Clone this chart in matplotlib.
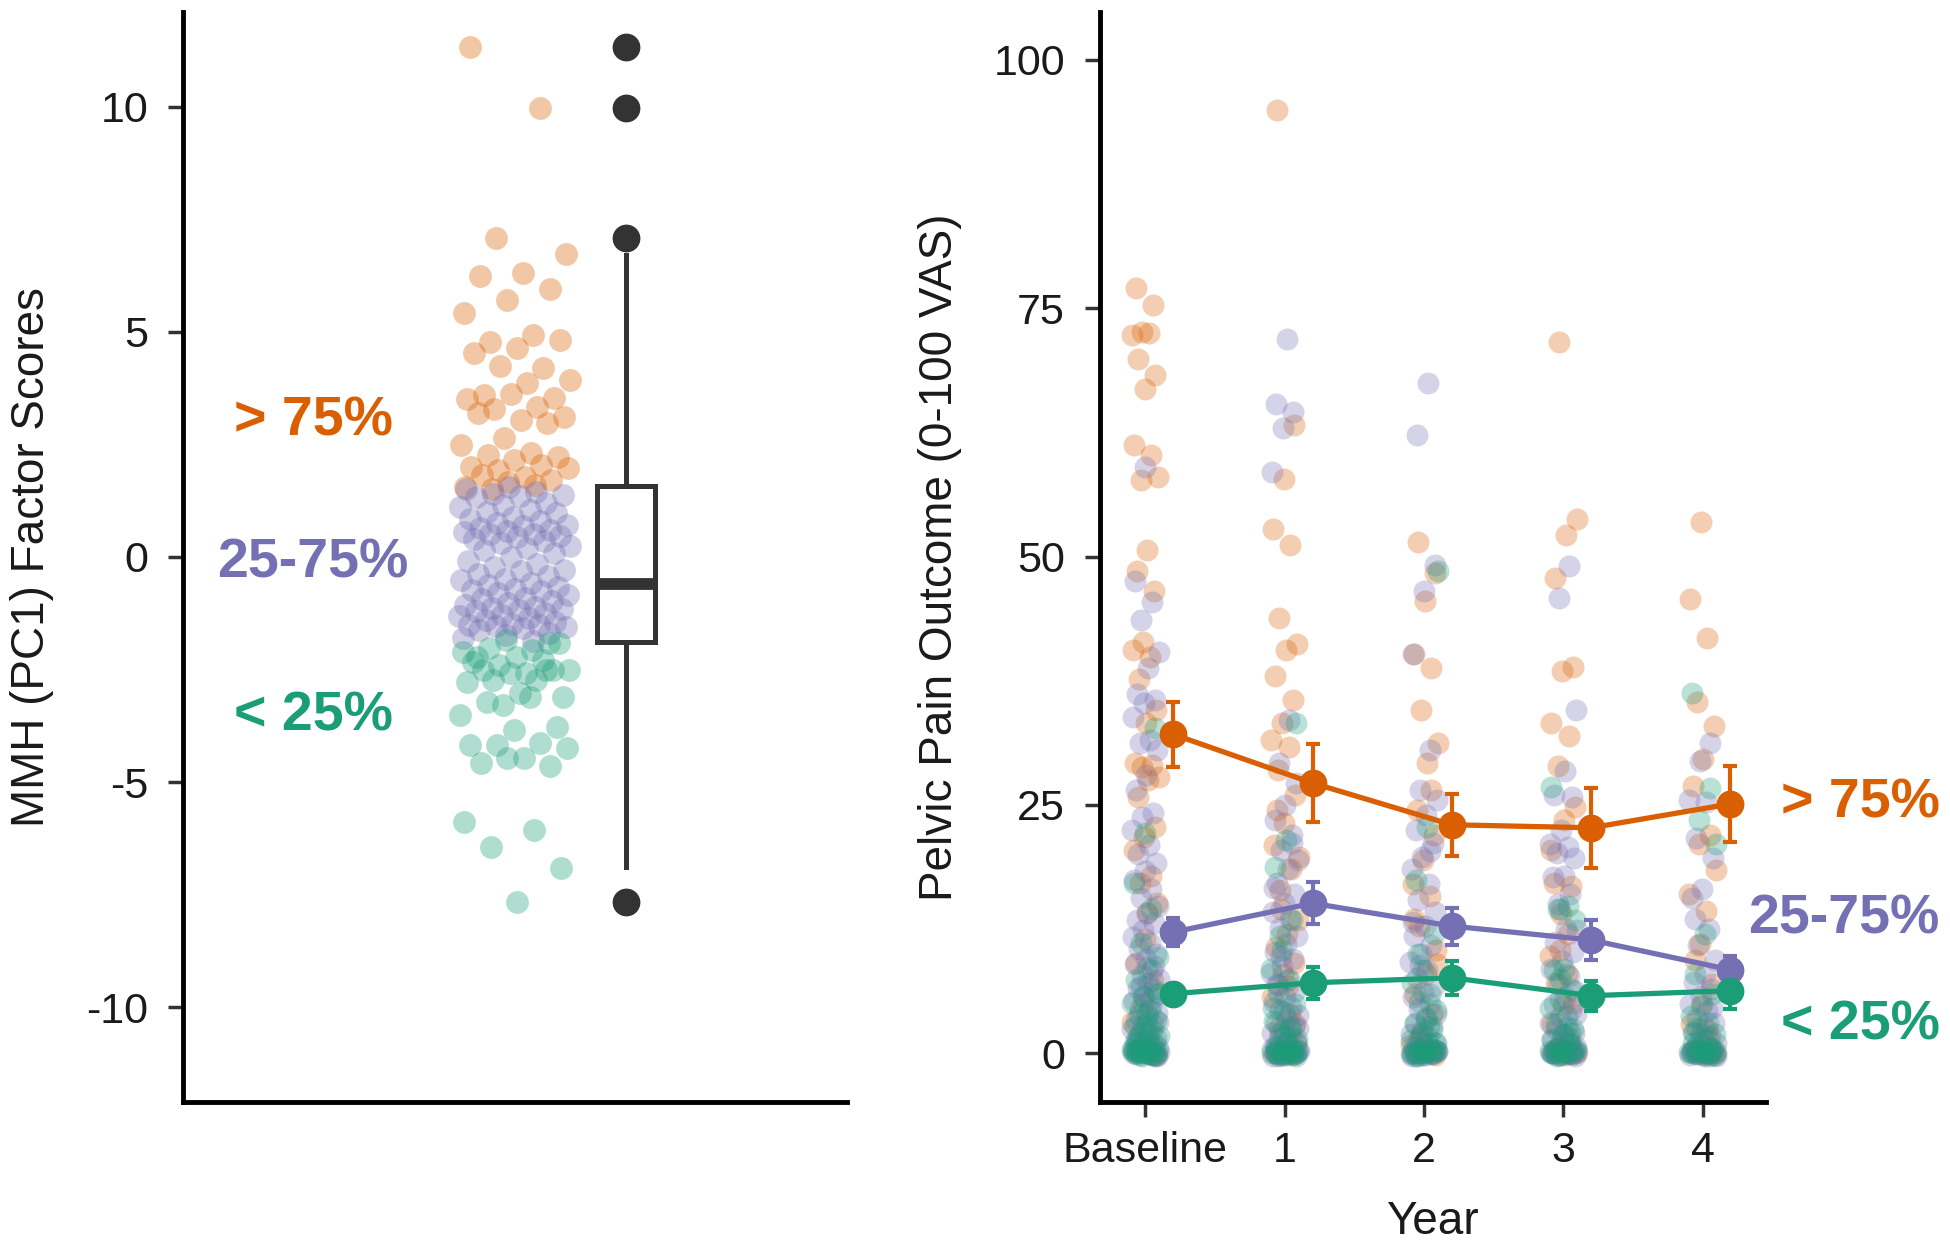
import numpy as np
import matplotlib.pyplot as plt

plt.rcParams['font.family'] = ['Liberation Sans', 'DejaVu Sans']
plt.rcParams['axes.unicode_minus'] = False

ORANGE = '#D95F02'
PURPLE = '#7570B3'
GREEN = '#1B9E77'
INK = '#1a1a1a'
BOXC = '#333333'

group_names = ['> 75%', '25-75%', '< 25%']

# ---- left panel: MMH (PC1) factor scores per subject, by quartile group
pc1_hi = [11.33, 9.97, 7.09, 6.73, 6.31, 6.24, 5.95, 5.71, 5.42, 4.93, 4.78, 4.82,
          4.64, 4.53, 4.2, 4.24, 3.93, 3.86, 3.6, 3.53, 3.62, 3.51, 3.33, 3.29,
          3.11, 3.04, 3.2, 2.98, 2.64, 2.49, 2.31, 2.27, 2.22, 2.16, 2.0, 2.04,
          1.93, 1.98, 1.78, 1.82, 1.71, 1.67, 1.55, 1.6, 1.5]
pc1_mid = [1.55, 1.5, 1.45, 1.4, 1.38, 1.35, 1.33,
           1.2, 1.15, 1.1, 1.05, 1.0, 0.98,
           0.89, 0.85, 0.8, 0.75, 0.7, 0.68, 0.65, 0.6, 0.58, 0.55, 0.52, 0.5, 0.47, 0.44,
           0.4, 0.35, 0.3, 0.25, 0.2, 0.16,
           0.08, 0.0, -0.08, -0.15, -0.22, -0.29,
           -0.32, -0.38, -0.42, -0.48, -0.52, -0.58, -0.62, -0.66, -0.7, -0.73,
           -0.76, -0.8, -0.85, -0.9, -0.93, -0.98, -1.02, -1.06, -1.1, -1.14, -1.16, -1.18,
           -1.2, -1.24, -1.28, -1.32, -1.36, -1.4, -1.44, -1.48, -1.5, -1.52, -1.54, -1.55,
           -1.58, -1.62, -1.68, -1.74, -1.8, -1.86]
pc1_lo = [-1.91, -1.84, -2.1, -2.07, -2.02, -1.91, -2.22, -2.33, -2.29, -2.4, -2.51,
          -2.58, -2.51, -2.51, -2.58, -2.78, -2.73, -2.73, -3.11, -3.02, -2.22, -2.51,
          -3.29, -3.51, -3.11, -3.22, -3.78, -3.84, -4.18, -4.13, -4.18, -4.24, -4.47,
          -4.58, -4.64, -4.47, -5.89, -6.07, -6.44, -6.91, -7.66]

# boxplot summary of all factor scores
box_q1, box_med, box_q3 = -1.88, -0.6, 1.58
box_whislo, box_whishi = -6.89, 6.71
box_fliers = [11.33, 9.97, 7.08, -7.66]

# ---- right panel: pelvic pain (0-100 VAS) per visit, by group
years = [0, 1, 2, 3, 4]
year_labels = ['Baseline', '1', '2', '3', '4']

pain_hi = [
    [77.0, 75.3, 72.6, 72.3, 72.5, 69.9, 68.3, 66.9, 61.2, 60.2, 57.7, 58.0, 50.7, 48.5,
     46.5, 41.4, 40.6, 39.9, 37.7, 34.6, 33.2, 29.2, 29.0, 28.8, 27.8, 27.5, 25.8, 22.8,
     21.8, 20.5, 17.8, 17.1, 15.1, 14.1, 9.1, 7.4, 5.0, 3.2, 0.9, 0.2, -0.2, 11.5],
    [94.9, 63.2, 57.8, 52.8, 51.2, 43.8, 41.2, 40.6, 38.0, 35.6, 33.2, 31.5, 30.8, 28.5,
     26.0, 23.2, 21.0, 18.5, 16.4, 13.4, 12.0, 10.7, 9.1, 8.0, 5.7, 4.0, 2.5, 1.0, 0.3,
     0.0, -0.2, 14.5, 19.8, 6.8, 24.5, 3.0],
    [51.5, 48.3, 45.5, 40.2, 38.8, 34.6, 31.2, 29.2, 24.5, 22.0, 19.5, 17.0, 15.8, 12.8,
     10.4, 8.0, 6.0, 4.0, 2.0, 0.8, 0.2, 0.0, -0.2, 0.3, 13.5, 26.5, 1.5, 9.0],
    [71.6, 53.8, 52.2, 47.8, 38.9, 38.5, 33.2, 31.9, 28.9, 24.8, 23.5, 17.1, 16.8, 10.4,
     9.8, 8.0, 7.1, 5.1, 4.9, 3.0, 1.5, 0.5, 0.0, -0.2, 0.2, 0.0, 14.0, 20.5, 12.0],
    [53.5, 45.7, 41.8, 35.4, 32.9, 29.6, 26.9, 22.0, 21.1, 18.4, 14.3, 9.4, 7.0, 5.0,
     3.0, 1.5, 0.5, 0.0, -0.2, 0.2, 0.0, 11.0, 16.0, 2.4],
]
pain_mid = [
    [59.0, 47.5, 45.4, 43.6, 40.4, 38.8, 36.2, 35.6, 35.3, 33.8, 31.5, 31.2, 30.5, 28.0,
     26.5, 24.2, 23.8, 22.5, 21.0, 20.1, 19.2, 18.3, 17.4, 16.5, 15.6, 14.8, 14.1, 13.4,
     13.1, 12.4, 11.7, 11.1, 10.5, 10.0, 9.5, 9.0, 8.4, 7.9, 7.5, 7.1, 6.6, 6.2, 5.7, 5.3,
     4.9, 4.5, 4.1, 3.7, 3.4, 3.0, 2.7, 2.4, 2.1, 1.8, 1.5, 1.3, 1.1, 0.9, 0.7, 0.5, 0.4,
     0.3, 0.2, 0.1, 0.0, -0.1, -0.2, -0.3, 0.3, 0.0, -0.2, 0.2, 0.1, -0.1, 0.4, -0.3, 0.0,
     0.2, 5.5, 6.8, 3.2, 2.0, 1.0, 8.8],
    [71.9, 65.3, 64.5, 62.9, 58.5, 33.5, 29.2, 27.2, 25.0, 23.5, 22.0, 20.5, 19.5, 18.5,
     17.1, 16.0, 15.1, 14.2, 13.5, 12.6, 11.8, 11.0, 10.2, 9.5, 8.8, 8.1, 7.5, 6.9, 6.3,
     5.7, 5.2, 4.7, 4.4, 3.9, 3.5, 3.1, 2.7, 2.3, 2.0, 1.7, 1.4, 1.1, 0.9, 0.7, 0.5, 0.3,
     0.2, 0.1, 0.0, -0.1, -0.2, -0.3, 0.3, 0.0, 0.2, -0.2, 0.1, 0.0, -0.1, 0.4, 0.2, -0.3,
     0.0, 0.1, 16.6, 21.2, 9.8, 2.5, 1.2, 7.0],
    [67.5, 62.2, 49.1, 46.5, 40.2, 30.5, 26.5, 25.5, 24.0, 22.5, 21.2, 19.8, 18.5, 17.0,
     15.4, 14.2, 12.8, 11.8, 10.9, 10.0, 9.2, 8.4, 7.6, 6.8, 6.2, 5.7, 5.0, 4.5, 4.0, 3.5,
     3.1, 2.7, 2.3, 1.9, 1.6, 1.3, 1.0, 0.8, 0.6, 0.4, 0.3, 0.2, 0.1, 0.0, -0.1, -0.2,
     -0.3, 0.3, 0.0, 0.2, -0.2, 0.1, 0.0, 0.4, -0.1, 0.2, -0.3, 0.0, 0.1, 13.2, 20.4, 8.9],
    [49.0, 45.8, 34.6, 28.4, 26.0, 25.8, 22.5, 21.1, 20.8, 20.2, 19.7, 17.8, 17.7, 16.0,
     14.5, 12.4, 12.5, 11.2, 10.2, 9.3, 8.5, 7.8, 7.0, 6.3, 5.7, 5.0, 4.4, 3.7, 3.1, 2.6,
     2.4, 2.0, 1.6, 1.3, 1.0, 0.8, 0.6, 0.4, 0.3, 0.2, 0.1, 0.0, -0.1, -0.2, -0.3, 0.3,
     0.0, 0.2, -0.2, 0.1, 0.0, 0.4, -0.1, 0.2, 0.0, 0.1, 15.0, 4.0, 1.8],
    [31.2, 29.4, 25.5, 25.3, 21.7, 19.7, 16.5, 15.6, 12.5, 10.9, 9.4, 8.0, 7.2, 6.5, 5.8,
     5.0, 4.3, 3.6, 3.1, 2.6, 2.1, 1.7, 1.3, 1.0, 0.7, 0.5, 0.3, 0.2, 0.1, 0.0, -0.1,
     -0.2, -0.3, 0.3, 0.0, 0.2, -0.2, 0.1, 0.0, 0.4, -0.1, 0.2, 0.0, 0.1, -0.3, 0.0, 13.5,
     4.6, 1.9],
]
pain_lo = [
    [32.7, 22.2, 17.1, 14.5, 11.1, 9.7, 8.6, 7.4, 6.5, 5.8, 5.1, 4.4, 3.9, 3.4, 2.9, 2.7,
     2.3, 2.0, 1.7, 1.4, 1.1, 0.9, 0.7, 0.5, 0.3, 0.2, 0.1, 0.0, -0.1, -0.2, -0.3, 0.3,
     0.0, 0.1, -0.2, 0.4, 0.2, -0.1, 0.0, 6.0, 4.0, 1.5],
    [33.2, 21.5, 18.8, 13.4, 10.4, 8.5, 7.4, 6.2, 5.0, 4.2, 3.3, 2.6, 2.0, 1.4, 1.0, 0.6,
     0.3, 0.1, 0.0, -0.1, -0.2, -0.3, 0.2, 0.0, 0.1, -0.2, 0.3, 0.0, 0.4, -0.1, 1.8, 4.6,
     2.4, 11.8],
    [48.5, 22.8, 17.4, 12.0, 8.4, 7.1, 6.0, 5.2, 4.4, 3.6, 2.9, 2.3, 1.8, 1.3, 0.9, 0.6,
     0.3, 0.1, 0.0, -0.1, -0.2, 0.2, 0.0, -0.3, 0.3, 0.1, 0.0, 2.6, 10.0, 1.0],
    [26.8, 14.8, 14.5, 13.4, 8.5, 8.4, 6.5, 5.5, 4.6, 3.8, 3.0, 2.4, 1.9, 1.4, 1.0, 0.6,
     0.3, 0.1, 0.0, -0.1, -0.2, 0.2, 0.0, -0.3, 0.3, 0.1, 0.0, 2.0, 7.5],
    [36.3, 26.7, 23.5, 21.1, 12.0, 8.0, 6.0, 4.8, 3.8, 3.1, 2.5, 1.9, 1.4, 1.0, 0.6, 0.3,
     0.1, 0.0, -0.1, -0.2, 0.2, 0.0, -0.3, 0.3, 0.1, 0.0, 2.0, 0.4],
]

# group means +/- SE per visit
mean_hi = [32.1, 27.2, 23.0, 22.7, 25.1]
se_hi = [3.3, 3.9, 3.1, 4.0, 3.8]
mean_mid = [12.2, 15.1, 12.8, 11.4, 8.4]
se_mid = [1.4, 2.1, 1.85, 2.0, 1.4]
mean_lo = [6.0, 7.1, 7.6, 5.8, 6.3]
se_lo = [0.9, 1.6, 1.7, 1.5, 1.8]


def spread(n, half, phase):
    # evenly scattered horizontal offsets (deterministic jitter)
    k = np.arange(n)
    return ((k * 0.618034 + phase) % 1.0 - 0.5) * 2 * half


def style(ax):
    for s in ['top', 'right']:
        ax.spines[s].set_visible(False)
    for s in ['left', 'bottom']:
        ax.spines[s].set_linewidth(3.5)
        ax.spines[s].set_color('black')
    ax.tick_params(width=2.5, length=10.8, color=BOXC, labelsize=31, labelcolor=INK)
    ax.tick_params(axis='y', pad=14)
    ax.tick_params(axis='x', pad=10)


fig = plt.figure(figsize=(19.5, 12.45), dpi=100)
axL = fig.add_axes([183 / 1950, 143 / 1245, 664 / 1950, 1090 / 1245])
axR = fig.add_axes([1099.5 / 1950, 143 / 1245, 666.5 / 1950, 1090 / 1245])

colors = [ORANGE, PURPLE, GREEN]

# left panel
for vals, c, ph in zip([pc1_hi, pc1_mid, pc1_lo], colors, [0.1, 0.45, 0.8]):
    axL.scatter(0.5 + spread(len(vals), 0.085, ph), vals, s=270, color=c,
                alpha=0.35, linewidths=0, zorder=2)

stats = [dict(med=box_med, q1=box_q1, q3=box_q3, whislo=box_whislo,
              whishi=box_whishi, fliers=box_fliers)]
axL.bxp(stats, positions=[0.667], widths=0.0875, showcaps=False, patch_artist=True,
        boxprops=dict(facecolor='white', edgecolor=BOXC, linewidth=3.6),
        whiskerprops=dict(color=BOXC, linewidth=3.6),
        medianprops=dict(color=BOXC, linewidth=8.5, solid_capstyle='butt'),
        flierprops=dict(marker='o', markersize=19, markerfacecolor=BOXC,
                        markeredgecolor=BOXC),
        manage_ticks=False, zorder=3)

for name, c, yy in zip(group_names, colors, [3.0, -0.15, -3.55]):
    axL.text(0.196, yy, name, ha='center', va='center', color=c, fontsize=40,
             fontweight='bold')

axL.set_xlim(0, 1)
axL.set_ylim(-12.1, 12.1)
axL.set_yticks([-10, -5, 0, 5, 10])
style(axL)
axL.tick_params(axis='x', bottom=False, labelbottom=False)
axL.set_ylabel('MMH (PC1) Factor Scores', fontsize=33, color=INK)
axL.yaxis.set_label_coords(-0.195, 0.5)

# right panel
for i, yr in enumerate(years):
    for grp, c, ph in zip([pain_hi, pain_mid, pain_lo], colors, [0.15, 0.5, 0.85]):
        vals = grp[i]
        axR.scatter(yr + spread(len(vals), 0.1, ph + 0.07 * i), vals, s=250, color=c,
                    alpha=0.3, linewidths=0, zorder=2)

xm = np.array(years) + 0.2
for m, e, c in zip([mean_hi, mean_mid, mean_lo], [se_hi, se_mid, se_lo], colors):
    axR.errorbar(xm, m, yerr=e, color=c, lw=3.8, marker='o', ms=19, elinewidth=3,
                 capsize=5, capthick=3, zorder=4)

for name, c, yy in zip(group_names, colors, [25.1, 13.5, 2.8]):
    axR.text(5.704, yy, name, ha='right', va='center', color=c, fontsize=40,
             fontweight='bold', clip_on=False)

axR.set_xlim(-0.33, 4.455)
axR.set_ylim(-4.9, 104.8)
axR.set_xticks(years)
axR.set_xticklabels(year_labels)
axR.set_yticks([0, 25, 50, 75, 100])
style(axR)
axR.set_xlabel('Year', fontsize=33, color=INK)
axR.xaxis.set_label_coords(0.5, -0.09)
axR.set_ylabel('Pelvic Pain Outcome (0-100 VAS)', fontsize=33, color=INK)
axR.yaxis.set_label_coords(-0.206, 0.5)

fig.savefig('out.png', dpi=100)
